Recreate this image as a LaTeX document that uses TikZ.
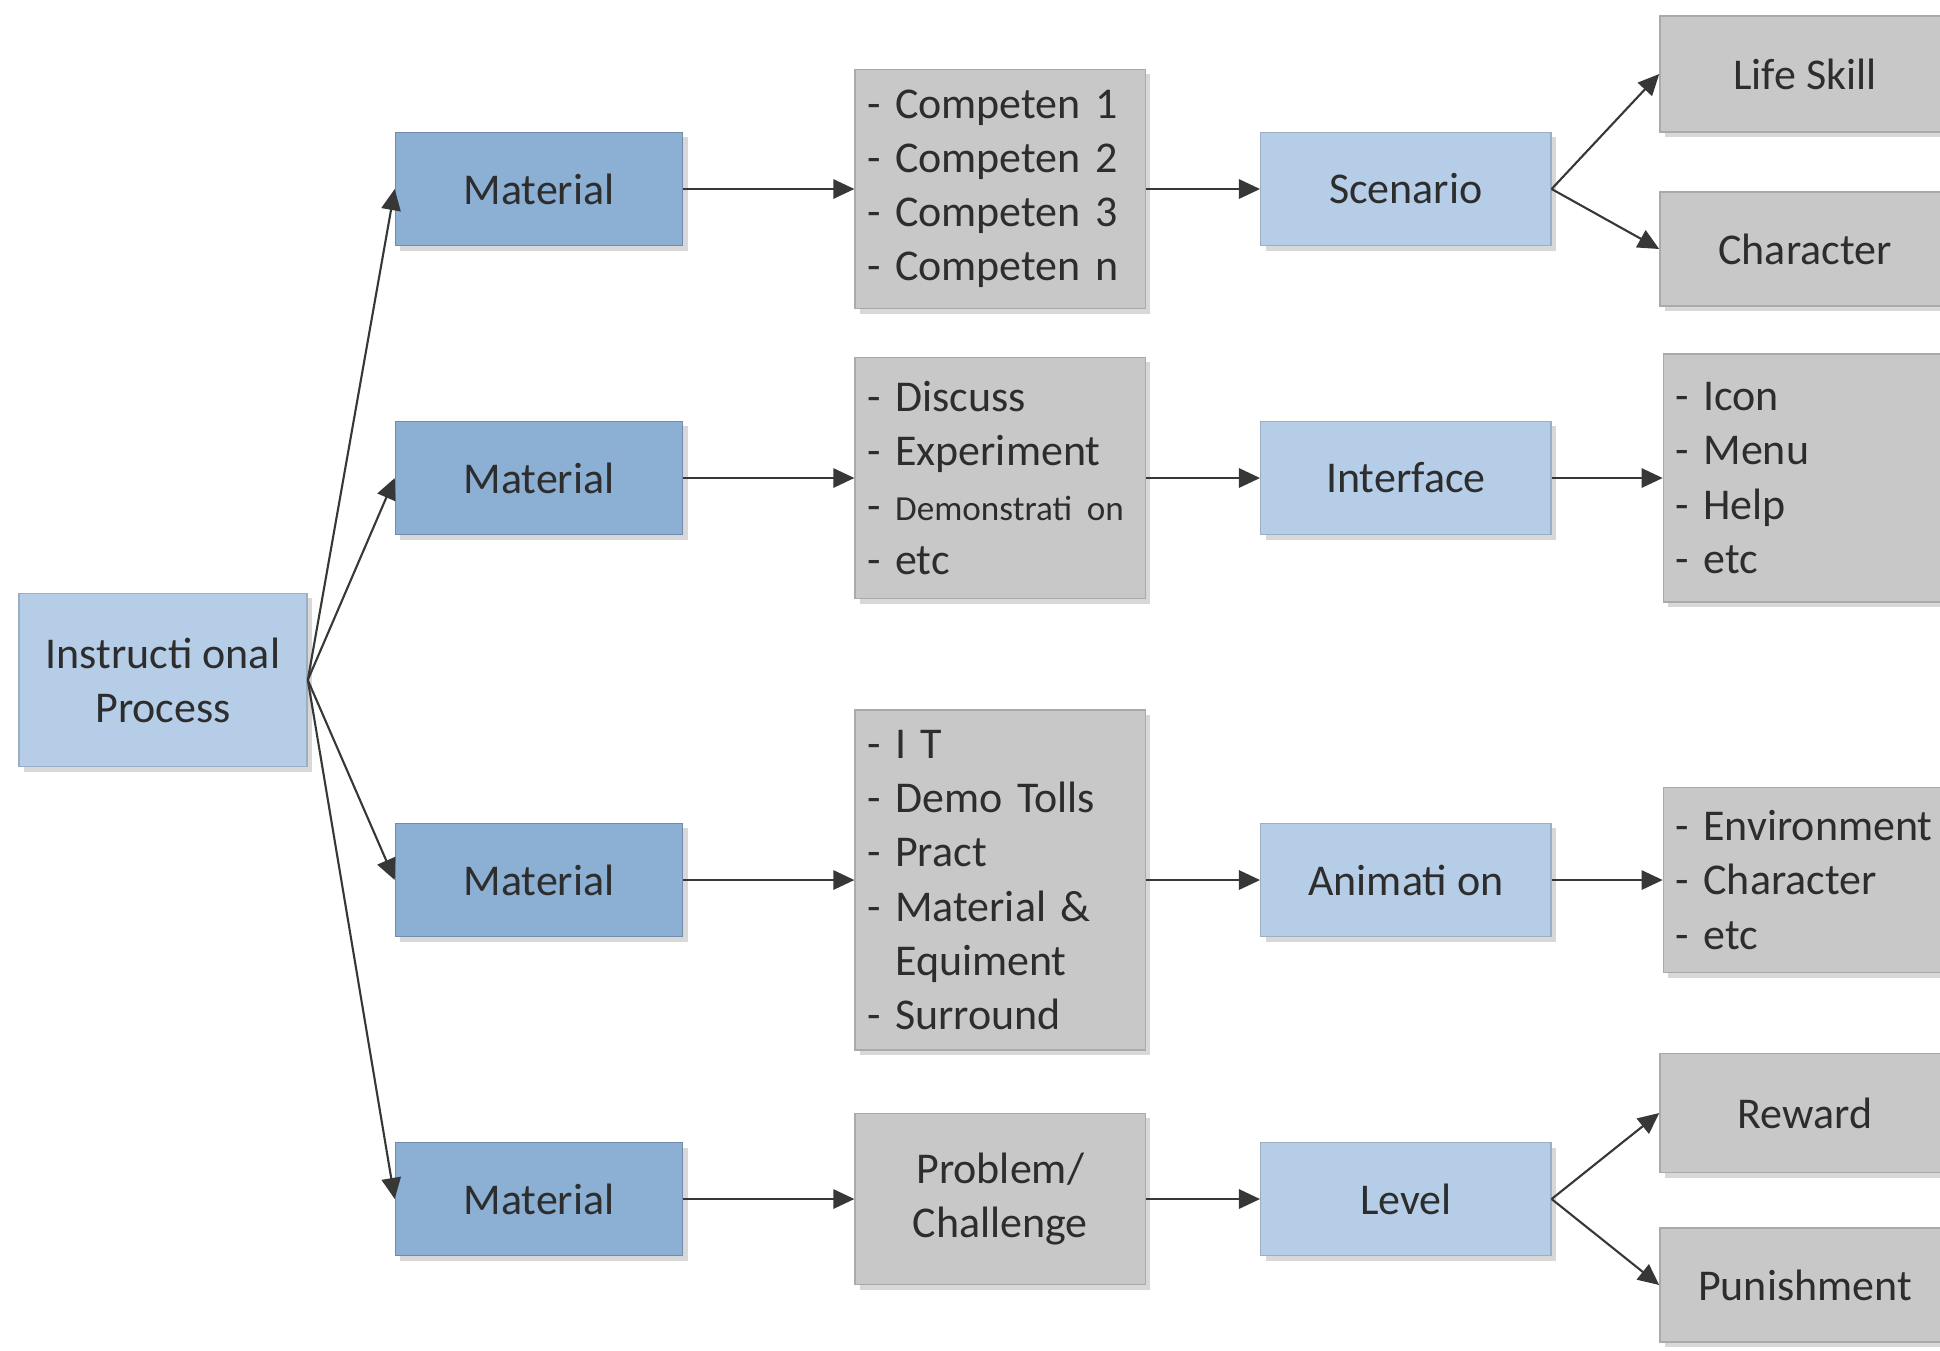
\documentclass[tikz,border=0pt]{standalone}
\usepackage{fontspec}
\setmainfont{Carlito}
\usetikzlibrary{positioning,shadows,arrows.meta}
\definecolor{matblue}{RGB}{140,175,212}
\definecolor{lightblue}{RGB}{182,205,231}
\definecolor{boxgrey}{RGB}{200,200,200}
\definecolor{shadowgrey}{RGB}{178,178,178}
\definecolor{arrowgrey}{RGB}{55,55,55}
\definecolor{textgrey}{RGB}{45,45,45}

\begin{document}
\begin{tikzpicture}[x=0.01cm, y=-0.01cm,
    font=\fontsize{12.5}{15.4}\selectfont,
    base/.style={rectangle, text=textgrey, inner sep=0pt,
      drop shadow={shadow xshift=0.05cm, shadow yshift=-0.05cm, fill=shadowgrey}},
    matbox/.style={base, fill=matblue, draw=matblue!80!black, minimum width=2.87cm, minimum height=1.13cm},
    bluebox/.style={base, fill=lightblue, draw=lightblue!85!black, minimum width=2.9cm, minimum height=1.13cm},
    greybox/.style={base, fill=boxgrey, draw=boxgrey!85!black, minimum width=2.9cm},
    listbox/.style={greybox, text width=2.66cm, align=left, inner xsep=0.12cm},
    link/.style={-{Triangle[length=6pt,width=5.5pt]}, line width=0.6pt, draw=arrowgrey}]
    \clip (0,0) rectangle (1940,1350);

    % Start
    \node[bluebox, minimum width=2.88cm, minimum height=1.73cm, align=center] (ip) at (163,680) {Instructi onal\\Process};

    % Row 1
    \node[matbox] (mat1) at (539,189) {Material};
    \node[listbox, minimum height=2.39cm, right=1.71cm of mat1] (comp) {- Competen 1\\- Competen 2\\- Competen 3\\- Competen n};
    \node[bluebox, right=1.14cm of comp] (scen) {Scenario};
    \node[greybox, minimum height=1.16cm] (life) at (1805,74) {Life Skill};
    \node[greybox, minimum height=1.14cm] (char) at (1805,249) {Character};

    % Row 2
    \node[matbox] (mat2) at (539,478) {Material};
    \node[listbox, minimum height=2.41cm, right=1.71cm of mat2] (meth) {- Discuss\\- Experiment\\\mbox{- {\fontsize{10}{15.4}\selectfont Demonstrati on}}\\- etc};
    \node[bluebox, right=1.14cm of meth] (intf) {Interface};
    \node[listbox, minimum height=2.48cm, right=1.11cm of intf] (icon) {- Icon\\- Menu\\- Help\\- etc};

    % Row 3
    \node[matbox] (mat3) at (539,880) {Material};
    \node[listbox, minimum height=3.40cm, right=1.71cm of mat3] (tools) {- I T\\- Demo Tolls\\- Pract\\- Material \&\\\phantom{- }Equiment\\- Surround};
    \node[bluebox, right=1.14cm of tools] (anim) {Animati on};
    \node[listbox, minimum height=1.85cm, right=1.11cm of anim] (env) {- Environment\\- Character\\- etc};

    % Row 4
    \node[matbox] (mat4) at (539,1199) {Material};
    \node[greybox, minimum height=1.71cm, align=center, right=1.71cm of mat4] (prob) {Problem/\\Challenge};
    \node[bluebox, right=1.14cm of prob] (level) {Level};
    \node[greybox, minimum height=1.19cm] (rew) at (1805,1113) {Reward};
    \node[greybox, minimum height=1.14cm] (pun) at (1805,1285) {Punishment};

    % Links
    \foreach \m in {mat1,mat2,mat3,mat4}
      \draw[link] (ip.east) -- (\m.west);
    \draw[link] (mat1) -- (comp);
    \draw[link] (comp) -- (scen);
    \draw[link] (scen.east) -- (life.west);
    \draw[link] (scen.east) -- (char.west);
    \draw[link] (mat2) -- (meth);
    \draw[link] (meth) -- (intf);
    \draw[link] (intf) -- (icon);
    \draw[link] (mat3) -- (tools);
    \draw[link] (tools) -- (anim);
    \draw[link] (anim) -- (env);
    \draw[link] (mat4) -- (prob);
    \draw[link] (prob) -- (level);
    \draw[link] (level.east) -- (rew.west);
    \draw[link] (level.east) -- (pun.west);
\end{tikzpicture}
\end{document}
